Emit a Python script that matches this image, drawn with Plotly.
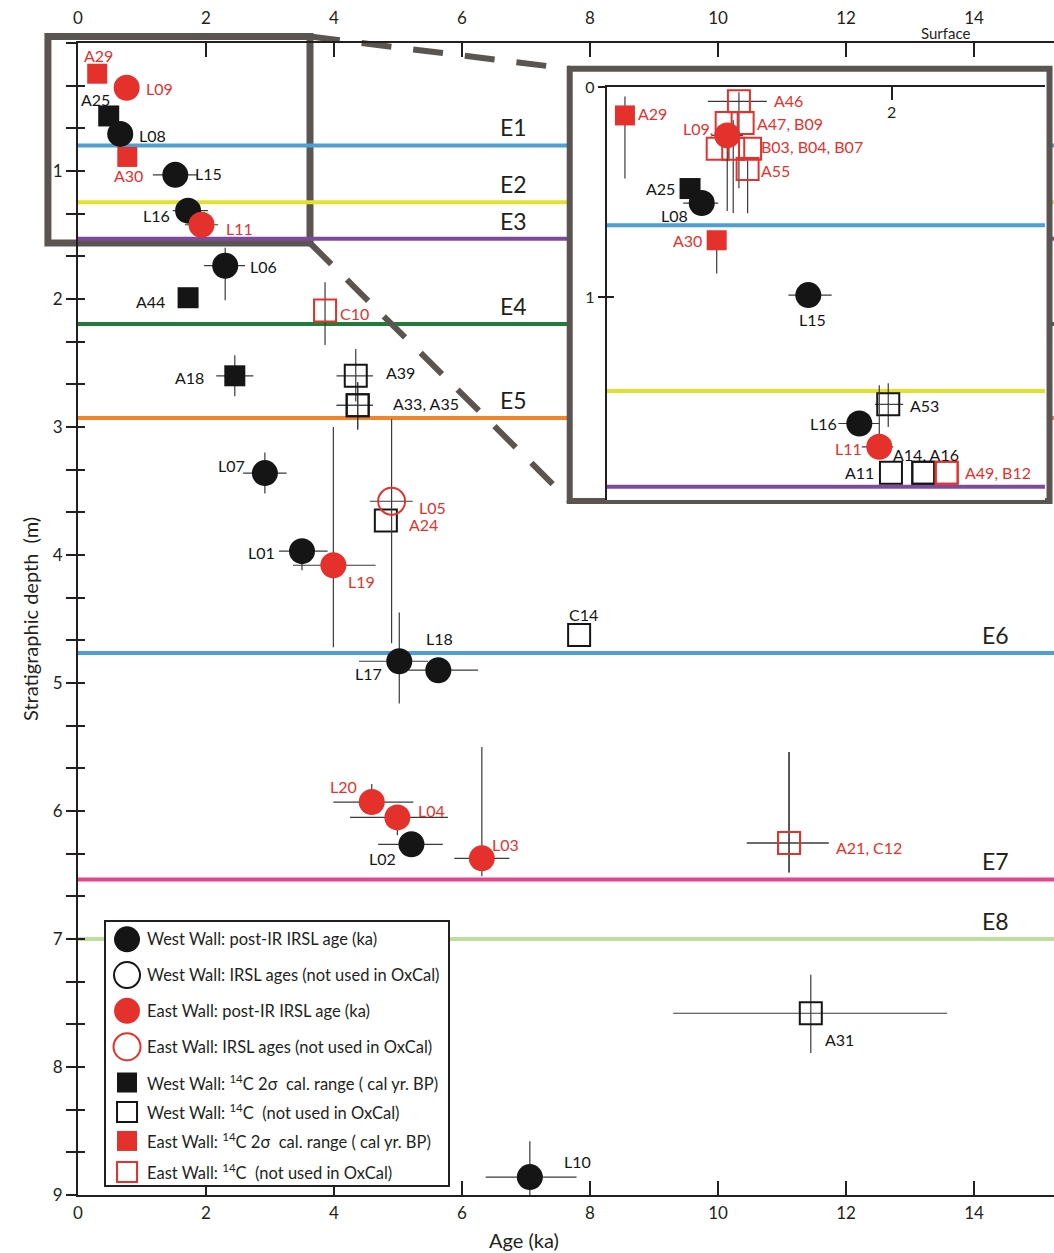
import plotly.graph_objects as go

# ---------------- Main panel samples: age (ka) vs stratigraphic depth (m) ----------------
# West wall, post-IR IRSL
west_pir_ids = ["L08", "L15", "L16", "L06", "L07", "L01", "L17", "L18", "L02", "L10"]
west_pir_age = [0.66, 1.52, 1.72, 2.30, 2.92, 3.50, 5.02, 5.63, 5.21, 7.06]
west_pir_depth = [0.71, 1.03, 1.31, 1.74, 3.36, 3.97, 4.83, 4.90, 6.26, 8.86]
west_pir_age_lo = [0.20, 0.35, 0.24, 0.33, 0.34, 0.36, 0.63, 0.47, 0.52, 0.69]
west_pir_age_hi = [0.20, 0.34, 0.31, 0.31, 0.34, 0.40, 0.45, 0.62, 0.49, 0.73]
west_pir_depth_lo = [0, 0, 0, 0.14, 0.16, 0, 0.38, 0, 0, 0.28]
west_pir_depth_hi = [0, 0, 0, 0.27, 0.16, 0.15, 0.33, 0, 0, 0.29]

# West wall, IRSL (not used in OxCal) - none in this section
west_irsl_ids = []
west_irsl_age = []
west_irsl_depth = []

# East wall, post-IR IRSL
east_pir_ids = ["L09", "L11", "L19", "L20", "L04", "L03"]
east_pir_age = [0.76, 1.93, 3.99, 4.59, 4.99, 6.31]
east_pir_depth = [0.35, 1.42, 4.08, 5.93, 6.05, 6.37]
east_pir_age_lo = [0.10, 0.26, 0.63, 0.60, 0.74, 0.43]
east_pir_age_hi = [0.10, 0.26, 0.66, 0.65, 0.79, 0.43]
east_pir_depth_lo = [0, 0, 1.08, 0.14, 0, 0.87]
east_pir_depth_hi = [0, 0, 0.64, 0, 0.14, 0.14]

# East wall, IRSL (not used in OxCal)
east_irsl_ids = ["L05"]
east_irsl_age = [4.90]
east_irsl_depth = [3.58]
east_irsl_age_lo = [0.34]
east_irsl_age_hi = [0.33]
east_irsl_depth_lo = [0.64]
east_irsl_depth_hi = [1.11]

# West wall, 14C 2-sigma calibrated range
west_c14_ids = ["A25", "A44", "A18"]
west_c14_age = [0.48, 1.72, 2.45]
west_c14_depth = [0.57, 1.99, 2.60]
west_c14_age_lo = [0, 0, 0.29]
west_c14_age_hi = [0, 0, 0.29]
west_c14_depth_lo = [0, 0, 0.16]
west_c14_depth_hi = [0, 0, 0.16]

# West wall, 14C (not used in OxCal)
west_c14x_ids = ["A39", "A33", "A35", "A24", "C14", "A31"]
west_c14x_age = [4.34, 4.37, 4.37, 4.81, 7.83, 11.45]
west_c14x_depth = [2.60, 2.83, 2.83, 3.73, 4.625, 7.58]
west_c14x_age_lo = [0.30, 0.33, 0.33, 0, 0, 2.15]
west_c14x_age_hi = [0.27, 0.24, 0.24, 0, 0, 2.13]
west_c14x_depth_lo = [0.21, 0.18, 0.18, 0, 0, 0.30]
west_c14x_depth_hi = [0.20, 0.19, 0.19, 0, 0, 0.31]

# East wall, 14C 2-sigma calibrated range
east_c14_ids = ["A29", "A30"]
east_c14_age = [0.30, 0.77]
east_c14_depth = [0.24, 0.89]

# East wall, 14C (not used in OxCal)
east_c14x_ids = ["C10", "A21", "C12"]
east_c14x_age = [3.86, 11.11, 11.11]
east_c14x_depth = [2.09, 6.25, 6.25]
east_c14x_age_lo = [0, 0.66, 0.66]
east_c14x_age_hi = [0, 0.62, 0.62]
east_c14x_depth_lo = [0.22, 0.71, 0.71]
east_c14x_depth_hi = [0.27, 0.23, 0.23]

# Event horizons
event_names = ["E1", "E2", "E3", "E4", "E5", "E6", "E7", "E8"]
event_depths = [0.80, 1.245, 1.53, 2.195, 2.93, 4.766, 6.535, 7.0]

# ---------------- Enlarged panel (upper 2 m) ----------------
in_west_pir_ids = ["L08", "L15", "L16"]
in_west_pir_age = [0.667, 1.415, 1.773]
in_west_pir_depth = [0.552, 0.990, 1.601]
in_west_pir_age_lo = [0.13, 0.14, 0.147]
in_west_pir_age_hi = [0.115, 0.164, 0.14]

in_east_pir_ids = ["L09", "L11"]
in_east_pir_age = [0.846, 1.913]
in_east_pir_depth = [0.230, 1.712]
in_east_pir_age_lo = [0.11, 0.123]
in_east_pir_age_hi = [0.11, 0.098]
in_east_pir_depth_lo = [0.01, 0.293]
in_east_pir_depth_hi = [0.36, 0]

in_west_c14_ids = ["A25"]
in_west_c14_age = [0.585]
in_west_c14_depth = [0.483]

in_west_c14x_ids = ["A53", "A11", "A14", "A16"]
in_west_c14x_age = [1.976, 1.995, 2.222, 2.222]
in_west_c14x_depth = [1.510, 1.835, 1.835, 1.835]
in_west_c14x_age_lo = [0.093, 0, 0, 0]
in_west_c14x_age_hi = [0.105, 0, 0, 0]
in_west_c14x_depth_lo = [0.10, 0, 0, 0]
in_west_c14x_depth_hi = [0.108, 0, 0, 0]

in_east_c14_ids = ["A29", "A30"]
in_east_c14_age = [0.128, 0.772]
in_east_c14_depth = [0.135, 0.729]
in_east_c14_depth_lo = [0.09, 0]
in_east_c14_depth_hi = [0.30, 0.158]

in_east_c14x_ids = ["A46", "A47", "B09", "B03", "B04", "B07", "A55", "A49", "B12"]
in_east_c14x_age = [0.928, 0.842, 0.954, 0.779, 0.888, 1.006, 0.989, 2.386, 2.386]
in_east_c14x_depth = [0.068, 0.171, 0.171, 0.293, 0.293, 0.293, 0.390, 1.835, 1.835]
in_east_c14x_age_lo = [0.218, 0, 0, 0, 0, 0, 0, 0, 0]
in_east_c14x_age_hi = [0.196, 0, 0, 0, 0, 0, 0, 0, 0]
in_east_c14x_depth_lo = [0.043, 0, 0, 0, 0.135, 0, 0.04, 0, 0]
in_east_c14x_depth_hi = [0.414, 0, 0, 0, 0.306, 0, 0.21, 0, 0]

in_event_depths = [0.658, 1.447, 1.902]

age_ticks = [0, 2, 4, 6, 8, 10, 12, 14]

# ---------------- Styling ----------------
RED = "#e5312c"
BLACK = "#151515"
AXIS = "#231f20"
ERR = "#3a3a3a"
FRAME = "#5b5552"
FONT = "Lato, 'Open Sans', sans-serif"
event_colors = ["#4e9fd5", "#e2e22c", "#7d4b9d", "#247b39", "#f2842a",
                "#4e9fd5", "#e2468c", "#bddf9c"]
X_MAX = 15.25
Y_MAX = 9.0

categories = {
    "west_pir": dict(name="West Wall: post-IR IRSL age (ka)", symbol="circle", color=BLACK, size=26),
    "west_irsl": dict(name="West Wall: IRSL ages (not used in OxCal)", symbol="circle-open", color=BLACK, size=26),
    "east_pir": dict(name="East Wall: post-IR IRSL age (ka)", symbol="circle", color=RED, size=26),
    "east_irsl": dict(name="East Wall: IRSL ages (not used in OxCal)", symbol="circle-open", color=RED, size=27),
    "west_c14": dict(name="West Wall: <sup>14</sup>C 2σ  cal. range ( cal yr. BP)", symbol="square", color=BLACK, size=21),
    "west_c14x": dict(name="West Wall: <sup>14</sup>C  (not used in OxCal)", symbol="square-open", color=BLACK, size=22),
    "east_c14": dict(name="East Wall: <sup>14</sup>C 2σ  cal. range ( cal yr. BP)", symbol="square", color=RED, size=20),
    "east_c14x": dict(name="East Wall: <sup>14</sup>C  (not used in OxCal)", symbol="square-open", color=RED, size=22),
}
legend_order = ["west_pir", "west_irsl", "east_pir", "east_irsl",
                "west_c14", "west_c14x", "east_c14", "east_c14x"]
draw_order = ["west_c14", "east_c14", "west_c14x", "east_c14x",
              "west_irsl", "east_irsl", "west_pir", "east_pir"]


def zeros(n):
    return [0] * n


main_sets = {
    "west_pir": (west_pir_ids, west_pir_age, west_pir_depth, west_pir_age_lo, west_pir_age_hi,
                 west_pir_depth_lo, west_pir_depth_hi),
    "west_irsl": (west_irsl_ids, west_irsl_age, west_irsl_depth, [], [], [], []),
    "east_pir": (east_pir_ids, east_pir_age, east_pir_depth, east_pir_age_lo, east_pir_age_hi,
                 east_pir_depth_lo, east_pir_depth_hi),
    "east_irsl": (east_irsl_ids, east_irsl_age, east_irsl_depth, east_irsl_age_lo, east_irsl_age_hi,
                  east_irsl_depth_lo, east_irsl_depth_hi),
    "west_c14": (west_c14_ids, west_c14_age, west_c14_depth, west_c14_age_lo, west_c14_age_hi,
                 west_c14_depth_lo, west_c14_depth_hi),
    "west_c14x": (west_c14x_ids, west_c14x_age, west_c14x_depth, west_c14x_age_lo, west_c14x_age_hi,
                  west_c14x_depth_lo, west_c14x_depth_hi),
    "east_c14": (east_c14_ids, east_c14_age, east_c14_depth, zeros(2), zeros(2), zeros(2), zeros(2)),
    "east_c14x": (east_c14x_ids, east_c14x_age, east_c14x_depth, east_c14x_age_lo, east_c14x_age_hi,
                  east_c14x_depth_lo, east_c14x_depth_hi),
}

inset_sets = {
    "west_pir": (in_west_pir_ids, in_west_pir_age, in_west_pir_depth, in_west_pir_age_lo,
                 in_west_pir_age_hi, zeros(3), zeros(3)),
    "east_pir": (in_east_pir_ids, in_east_pir_age, in_east_pir_depth, in_east_pir_age_lo,
                 in_east_pir_age_hi, in_east_pir_depth_lo, in_east_pir_depth_hi),
    "west_c14": (in_west_c14_ids, in_west_c14_age, in_west_c14_depth, zeros(1), zeros(1), zeros(1), zeros(1)),
    "west_c14x": (in_west_c14x_ids, in_west_c14x_age, in_west_c14x_depth, in_west_c14x_age_lo,
                  in_west_c14x_age_hi, in_west_c14x_depth_lo, in_west_c14x_depth_hi),
    "east_c14": (in_east_c14_ids, in_east_c14_age, in_east_c14_depth, zeros(2), zeros(2),
                 in_east_c14_depth_lo, in_east_c14_depth_hi),
    "east_c14x": (in_east_c14x_ids, in_east_c14x_age, in_east_c14x_depth, in_east_c14x_age_lo,
                  in_east_c14x_age_hi, in_east_c14x_depth_lo, in_east_c14x_depth_hi),
}

# sample labels: (sample id used as anchor, text, pixel offset of text centre, colour)
main_labels = [
    ("A29", "A29", (1, -18), RED), ("L09", "L09", (33, 1), RED),
    ("A25", "A25", (-13, -16), BLACK), ("L08", "L08", (32, 2), BLACK),
    ("A30", "A30", (1, 19), RED), ("L15", "L15", (33, -1), BLACK),
    ("L16", "L16", (-32, 5), BLACK), ("L11", "L11", (38, 4), RED),
    ("L06", "L06", (38, 1), BLACK), ("A44", "A44", (-38, 4), BLACK),
    ("C10", "C10", (29, 3), RED), ("A18", "A18", (-45, 2), BLACK),
    ("A39", "A39", (45, -3), BLACK), ("A35", "A33, A35", (68, -2), BLACK),
    ("L07", "L07", (-33, -8), BLACK), ("L05", "L05", (41, 6), RED),
    ("A24", "A24", (38, 4), RED), ("L01", "L01", (-41, 1), BLACK),
    ("L19", "L19", (28, 16), RED), ("L17", "L17", (-31, 12), BLACK),
    ("L18", "L18", (1, -32), BLACK), ("C14", "C14", (4, -21), BLACK),
    ("L20", "L20", (-28, -16), RED), ("L04", "L04", (34, -7), RED),
    ("L02", "L02", (-29, 14), BLACK), ("L03", "L03", (24, -14), RED),
    ("C12", "A21, C12", (80, 4), RED), ("A31", "A31", (29, 26), BLACK),
    ("L10", "L10", (48, -16), BLACK),
]
inset_labels = [
    ("A29", "A29", (28, -2), RED), ("A46", "A46", (50, -1), RED),
    ("B09", "A47, B09", (47, 1), RED), ("L09", "L09,", (-29, -7), RED),
    ("B07", "B03, B04, B07", (62, -2), RED), ("A55", "A55", (28, 1), RED),
    ("A25", "A25", (-30, 0), BLACK), ("L08", "L08", (-27, 12), BLACK),
    ("A30", "A30", (-29, 0), RED), ("L15", "L15", (4, 24), BLACK),
    ("A53", "A53", (36, 1), BLACK), ("L16", "L16", (-36, 0), BLACK),
    ("L11", "L11", (-31, 2), RED), ("A14", "A14, A16", (3, -18), BLACK),
    ("A11", "A11", (-31, 0), BLACK), ("B12", "A49, B12", (51, 0), RED),
]
event_label_age = [6.8, 6.8, 6.8, 6.8, 6.8, 14.33, 14.33, 14.33]

# layout geometry of decorations, in main-axis units (age, depth)
zoom_box_age = (-0.47, 3.625)
zoom_box_depth = (-0.05, 1.5625)
inset_frame_age = (7.683, 15.18)
inset_frame_depth = (0.2016, 3.578)
inset_plot_age = (8.261, 15.109)
inset_plot_depth = (0.341, 3.570)
INSET_X_RANGE = [0, 3.076]
INSET_Y_RANGE = [1.965, -0.002]

# legend panel (own axes measured in pixels from the box's top-left corner)
LEGEND_W, LEGEND_H = 342, 263
legend_row_y = [17.6, 53.3, 89.0, 125.0, 160.6, 190.0, 219.0, 250.0]
legend_domain_x = [0.02869, 0.3794]
legend_domain_y = [0.00868, 0.2372]


def paper_x(age):
    return age / X_MAX


def paper_y(depth):
    return 1 - depth / Y_MAX


fig = go.Figure()


def add_points(key, data, xa, ya):
    ids, age, depth, alo, ahi, dlo, dhi = data
    st = categories[key]
    is_open = st["symbol"].endswith("open")
    marker = dict(symbol=st["symbol"], size=st["size"], color=st["color"],
                  line=dict(width=2 if is_open else 0, color=st["color"]))
    fig.add_trace(go.Scatter(
        x=age, y=depth, mode="markers", name=st["name"], text=ids,
        hovertemplate="%{text}: %{x} ka, %{y} m<extra></extra>",
        marker=marker, xaxis=xa, yaxis=ya, cliponaxis=False, showlegend=False,
        error_x=dict(type="data", symmetric=False, array=ahi, arrayminus=alo,
                     color=ERR, thickness=1.2, width=0, visible=len(alo) > 0),
        error_y=dict(type="data", symmetric=False, array=dhi, arrayminus=dlo,
                     color=ERR, thickness=1.2, width=0, visible=len(dlo) > 0),
    ))


for key in draw_order:
    add_points(key, main_sets[key], "x", "y")
for key in draw_order:
    if key in inset_sets:
        add_points(key, inset_sets[key], "x3", "y3")

# empty traces so the overlaid tick axes (top age axis, crossing depth ticks) get drawn
for xa, ya in (("x2", "y"), ("x", "y2"), ("x3", "y4")):
    fig.add_trace(go.Scatter(x=[None], y=[None], xaxis=xa, yaxis=ya, mode="markers",
                             showlegend=False, hoverinfo="skip"))

# legend symbols
for key, ry in zip(legend_order, legend_row_y):
    st = categories[key]
    is_open = st["symbol"].endswith("open")
    size = st["size"] if st["symbol"].startswith("circle") else 20
    fig.add_trace(go.Scatter(
        x=[21], y=[ry], mode="markers", xaxis="x5", yaxis="y5", showlegend=False,
        hoverinfo="skip", cliponaxis=False,
        marker=dict(symbol=st["symbol"], size=size, color=st["color"],
                    line=dict(width=2 if is_open else 0, color=st["color"])),
    ))

# ---------------- shapes ----------------
shapes = []
# outline of the enlarged area
shapes.append(dict(type="rect", xref="paper", yref="paper", layer="below",
                   x0=paper_x(zoom_box_age[0]), x1=paper_x(zoom_box_age[1]),
                   y0=paper_y(zoom_box_depth[1]), y1=paper_y(zoom_box_depth[0]),
                   line=dict(color=FRAME, width=7), fillcolor="rgba(0,0,0,0)"))
# event horizons across the main panel
for d, c in zip(event_depths, event_colors):
    shapes.append(dict(type="line", xref="paper", yref="y", layer="below",
                       x0=0, x1=1, y0=d, y1=d, line=dict(color=c, width=4)))
# inset frame (white backing hides the main horizons)
shapes.append(dict(type="rect", xref="paper", yref="paper", layer="below",
                   x0=paper_x(inset_frame_age[0]), x1=paper_x(inset_frame_age[1]),
                   y0=paper_y(inset_frame_depth[1]), y1=paper_y(inset_frame_depth[0]),
                   line=dict(color=FRAME, width=6), fillcolor="white"))
# white backing for the legend box
shapes.append(dict(type="rect", xref="paper", yref="paper", layer="below",
                   x0=legend_domain_x[0], x1=legend_domain_x[1],
                   y0=legend_domain_y[0], y1=legend_domain_y[1],
                   line=dict(width=0), fillcolor="white"))
# dashed connectors from the enlarged area to the inset
for dz, df in ((zoom_box_depth[0], inset_frame_depth[0]), (zoom_box_depth[1], inset_frame_depth[1])):
    shapes.append(dict(type="line", xref="paper", yref="paper", layer="below",
                       x0=paper_x(zoom_box_age[1]), y0=paper_y(dz),
                       x1=paper_x(inset_frame_age[0]), y1=paper_y(df),
                       line=dict(color=FRAME, width=6, dash="30px,22px")))
# event horizons inside the inset
for d, c in zip(in_event_depths, event_colors[:3]):
    shapes.append(dict(type="line", xref="x3", yref="y3", layer="below",
                       x0=INSET_X_RANGE[0], x1=INSET_X_RANGE[1], y0=d, y1=d,
                       line=dict(color=c, width=4)))

# ---------------- annotations ----------------
ann = []
main_pos = {}
for key, data in main_sets.items():
    for i, a, d in zip(data[0], data[1], data[2]):
        main_pos[i] = (a, d)
inset_pos = {}
for key, data in inset_sets.items():
    for i, a, d in zip(data[0], data[1], data[2]):
        inset_pos[i] = (a, d)

for sid, text, (dx, dy), col in main_labels:
    a, d = main_pos[sid]
    ann.append(dict(x=a, y=d, xref="x", yref="y", text=text, showarrow=False,
                    xanchor="center", yanchor="middle",
                    xshift=dx, yshift=-dy, font=dict(size=16, color=col, family=FONT)))
for sid, text, (dx, dy), col in inset_labels:
    a, d = inset_pos[sid]
    ann.append(dict(x=a, y=d, xref="x3", yref="y3", text=text, showarrow=False,
                    xanchor="center", yanchor="middle",
                    xshift=dx, yshift=-dy, font=dict(size=16, color=col, family=FONT)))
for name, d, xa in zip(event_names, event_depths, event_label_age):
    ann.append(dict(x=xa, y=d, xref="x", yref="y", text=name, showarrow=False,
                    xanchor="center", yanchor="middle",
                    yshift=18, font=dict(size=23, color=AXIS, family=FONT)))
for key, ry in zip(legend_order, legend_row_y):
    ann.append(dict(x=39, y=ry, xref="x5", yref="y5", text=categories[key]["name"],
                    showarrow=False, xanchor="left", yanchor="middle",
                    font=dict(size=16.5, color=AXIS, family=FONT)))
ann.append(dict(x=13.57, y=1.0084, xref="x", yref="paper", text="Surface", showarrow=False,
                xanchor="center", yanchor="middle",
                font=dict(size=15, color=AXIS, family=FONT)))
ann.append(dict(x=0.457, y=-0.039, xref="paper", yref="paper", text="Age (ka)", showarrow=False,
                xanchor="center", yanchor="middle",
                font=dict(size=20, color=AXIS, family=FONT)))
ann.append(dict(x=-0.0492, y=0.5, xref="paper", yref="paper", text="Stratigraphic depth  (m)",
                showarrow=False, textangle=-90, xanchor="center", yanchor="middle",
                font=dict(size=20, color=AXIS, family=FONT)))

# ---------------- axes ----------------
depth_tickvals = [i / 3 for i in range(0, 28)]
depth_ticktext = [str(i // 3) if (i % 3 == 0 and i > 0) else "" for i in range(0, 28)]

common = dict(showgrid=False, zeroline=False, fixedrange=True)
fig.update_layout(
    width=1054, height=1253,
    margin=dict(l=78, r=0, t=43, b=58),
    plot_bgcolor="white", paper_bgcolor="white",
    font=dict(family=FONT, color=AXIS),
    showlegend=False,
    shapes=shapes, annotations=ann,
    xaxis=dict(domain=[0, 1], range=[0, X_MAX], anchor="y", tickvals=age_ticks,
               ticks="inside", ticklen=14, tickwidth=1.8, tickcolor=AXIS,
               showline=True, linecolor=AXIS, linewidth=2,
               tickfont=dict(size=17, color=AXIS), ticklabelstandoff=2, **common),
    xaxis2=dict(overlaying="x", side="top", range=[0, X_MAX], anchor="y", tickvals=age_ticks,
                ticks="inside", ticklen=14, tickwidth=1.8, tickcolor=AXIS,
                showline=True, linecolor=AXIS, linewidth=2,
                tickfont=dict(size=17, color=AXIS), ticklabelstandoff=10, **common),
    yaxis=dict(domain=[0, 1], range=[Y_MAX, 0], anchor="x", tickvals=depth_tickvals,
               ticktext=depth_ticktext, ticks="outside", ticklen=10, tickwidth=1.8,
               tickcolor=AXIS, showline=True, linecolor=AXIS, linewidth=2,
               tickfont=dict(size=17, color=AXIS), **common),
    yaxis2=dict(overlaying="y", side="left", range=[Y_MAX, 0], anchor="x",
                tickvals=depth_tickvals, ticks="inside", ticklen=7, tickwidth=1.8,
                tickcolor=AXIS, showticklabels=False, showline=False, **common),
    # inset age axis: label "2" pulled just below the top line
    xaxis3=dict(domain=[paper_x(inset_plot_age[0]), paper_x(inset_plot_age[1])],
                range=INSET_X_RANGE, anchor="y3", side="top", tickvals=[2],
                ticks="inside", ticklen=13, tickwidth=1.8, tickcolor=AXIS,
                ticklabelstandoff=-40, showline=True, linecolor=AXIS, linewidth=2,
                tickfont=dict(size=16, color=AXIS), **common),
    yaxis3=dict(domain=[paper_y(inset_plot_depth[1]), paper_y(inset_plot_depth[0])],
                range=INSET_Y_RANGE, anchor="x3", tickvals=[0, 1], ticks="outside",
                ticklen=7, tickwidth=1.8, tickcolor=AXIS, showline=True, linecolor=AXIS,
                linewidth=2, tickfont=dict(size=16, color=AXIS), **common),
    yaxis4=dict(overlaying="y3", side="left", range=INSET_Y_RANGE, anchor="x3",
                tickvals=[1], ticks="inside", ticklen=7, tickwidth=1.8, tickcolor=AXIS,
                showticklabels=False, showline=False, **common),
    xaxis5=dict(domain=legend_domain_x, range=[0, LEGEND_W], anchor="y5",
                showline=True, mirror=True, linecolor=AXIS, linewidth=2,
                ticks="", showticklabels=False, **common),
    yaxis5=dict(domain=legend_domain_y, range=[LEGEND_H, 0], anchor="x5",
                showline=True, mirror=True, linecolor=AXIS, linewidth=2,
                ticks="", showticklabels=False, **common),
)

fig.write_html("out.html")
